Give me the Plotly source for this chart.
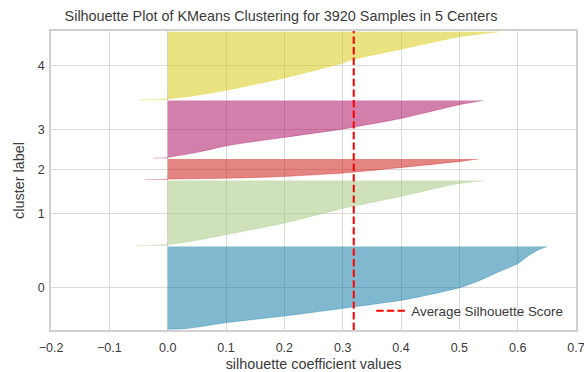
import plotly.graph_objects as go

# ---- data ----
cluster_labels = ["0", "1", "2", "3", "4"]
cluster_sizes = [1100, 870, 276, 770, 904]

# sorted silhouette values sampled at ranks within each cluster
ranks_0 = [0, 9, 89, 177, 280, 387, 470, 556, 660, 757, 868, 960, 1024, 1070, 1100]
vals_0 = [0.0, 0.033, 0.102, 0.201, 0.302, 0.402, 0.455, 0.502, 0.538, 0.565, 0.599, 0.615, 0.628, 0.640, 0.651]

ranks_1 = [0, 8, 18, 52, 149, 305, 502, 662, 817, 870]
vals_1 = [-0.055, -0.02, 0.0, 0.033, 0.10, 0.201, 0.302, 0.402, 0.49, 0.541]

ranks_2 = [0, 4, 8, 20, 44, 90, 164, 244, 276]
vals_2 = [-0.038, -0.01, 0.0, 0.10, 0.201, 0.302, 0.402, 0.502, 0.533]

ranks_3 = [0, 5, 10, 79, 168, 279, 391, 533, 716, 770]
vals_3 = [-0.024, -0.005, 0.0, 0.051, 0.102, 0.201, 0.302, 0.402, 0.502, 0.541]

ranks_4 = [0, 6, 12, 60, 127, 293, 493, 528, 675, 840, 904]
vals_4 = [-0.047, -0.01, 0.0, 0.051, 0.102, 0.201, 0.302, 0.313, 0.402, 0.502, 0.568]

avg_score = 0.319
x_ticks = [-0.2, -0.1, 0.0, 0.1, 0.2, 0.3, 0.4, 0.5, 0.6, 0.7]

colors = ["rgba(2,114,162,0.5)", "rgba(159,195,119,0.5)", "rgba(202,11,3,0.5)",
          "rgba(165,2,88,0.5)", "rgba(215,199,3,0.5)"]

all_ranks = [ranks_0, ranks_1, ranks_2, ranks_3, ranks_4]
all_vals = [vals_0, vals_1, vals_2, vals_3, vals_4]

fig = go.Figure()
gap = 10
y_lower = gap
tick_pos = []
for k, (r, v) in enumerate(zip(all_ranks, all_vals)):
    ys = [y_lower + ri for ri in r]
    fig.add_trace(go.Scatter(
        x=v, y=ys, mode="lines", fill="tozerox", line_shape="spline",
        fillcolor=colors[k], line=dict(width=0.6, color=colors[k], smoothing=0.6),
        showlegend=False, hoverinfo="skip"))
    tick_pos.append(y_lower + cluster_sizes[k] / 2)
    y_lower = y_lower + cluster_sizes[k] + gap

y_max = y_lower

fig.add_trace(go.Scatter(
    x=[avg_score, avg_score], y=[0, y_max], mode="lines",
    line=dict(color="red", width=2, dash="7.4px,3.2px"),
    name="Average Silhouette Score"))

font_family = "Liberation Sans, Arial, sans-serif"
fig.update_layout(
    width=584, height=372,
    margin=dict(l=51, r=8, t=31, b=42, autoexpand=False),
    paper_bgcolor="white", plot_bgcolor="white",
    font=dict(family=font_family, color="#3a3a3a", size=12.5),
    title=dict(text="Silhouette Plot of KMeans Clustering for 3920 Samples in 5 Centers",
               xref="container", x=281 / 584, xanchor="center",
               y=1 - 16 / 372, yanchor="middle",
               font=dict(size=14.4, color="#3a3a3a")),
    legend=dict(x=0.61, y=0.063, xanchor="left", yanchor="middle",
                bgcolor="rgba(0,0,0,0)", font=dict(size=13.4, color="#3a3a3a")),
    showlegend=True,
)
fig.update_xaxes(
    range=[-0.2, 0.7], tickvals=x_ticks, tickformat=".1f", automargin=False,
    ticklabeloverflow="allow",
    showgrid=True, gridcolor="#dadada", gridwidth=1.2,
    zeroline=False, showline=True, linecolor="#d0d0d0", linewidth=1.5, mirror=True,
    ticks="outside", ticklen=5, tickcolor="rgba(0,0,0,0)",
    title=dict(text="silhouette coefficient values", font=dict(size=14.4), standoff=8),
)
fig.update_yaxes(
    range=[0, y_max], tickvals=tick_pos, ticktext=cluster_labels, automargin=False,
    showgrid=True, gridcolor="#dadada", gridwidth=1.2,
    zeroline=False, showline=True, linecolor="#d0d0d0", linewidth=1.5, mirror=True,
    ticks="outside", ticklen=2, tickcolor="rgba(0,0,0,0)",
    title=dict(text="cluster label", font=dict(size=14.4), standoff=10),
)

fig.write_html("out.html")
